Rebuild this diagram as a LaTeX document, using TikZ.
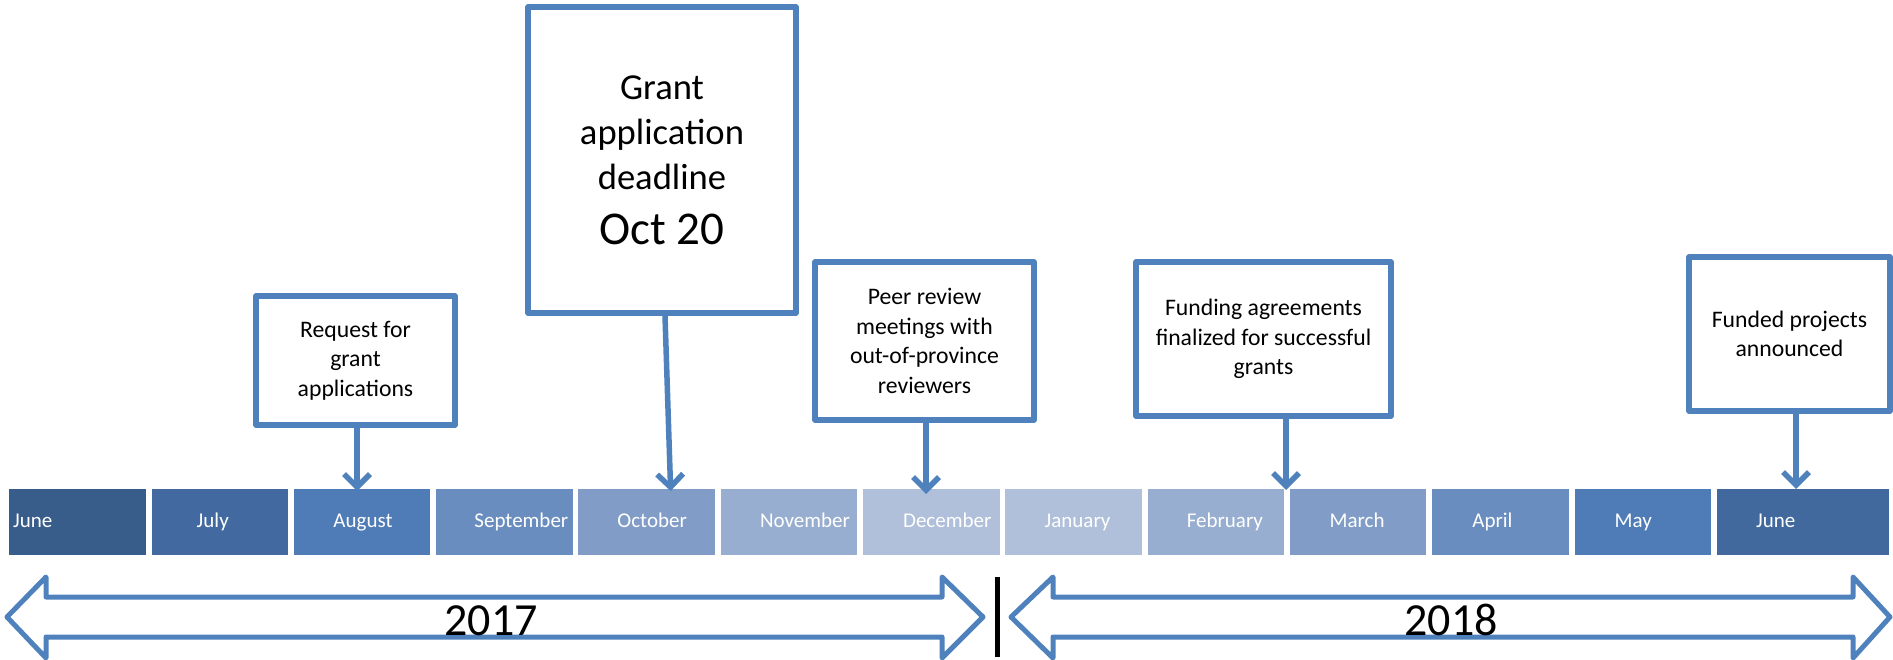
\documentclass[tikz,border=0pt]{standalone}
\usepackage{fontspec}
\setmainfont{Carlito}
\usetikzlibrary{arrows.meta}
\definecolor{ob}{HTML}{4F81BD}
\definecolor{mA}{HTML}{385D8A}
\definecolor{mB}{HTML}{426AA0}
\definecolor{mC}{HTML}{4F7BB6}
\definecolor{mD}{HTML}{6A8DC0}
\definecolor{mE}{HTML}{819DC7}
\definecolor{mF}{HTML}{98AED0}
\definecolor{mG}{HTML}{B0C0DA}
\definecolor{mH}{HTML}{42699E}
\begin{document}
\begin{tikzpicture}[x=1pt,y=-1pt,
  month/.style={rectangle, inner sep=0pt, minimum height=65.5pt, minimum width=136.5pt, anchor=north west},
  mlabel/.style={text=white, font=\fontsize{21}{25}\selectfont, inner sep=0pt, anchor=base},
  event/.style={rectangle, draw=ob, line width=5.5pt, line join=round, fill=white, align=center, inner sep=0pt, font=\fontsize{23.7}{29.5}\selectfont},
  conn/.style={draw=ob, line width=5.5pt, -{Straight Barb[length=13pt,width=26pt]}},
  yeararrow/.style={draw=ob, line width=5pt, line join=round},
  year/.style={font=\fontsize{46}{55}\selectfont, inner sep=0pt, anchor=base}
]
\useasboundingbox (0,0) rectangle (1893,660);
% month boxes
\node[month, fill=mA] (jun17) at (9,489) {};
\node[month, fill=mB] (jul) at (151.3,489) {};
\node[month, fill=mC] (aug) at (293.6,489) {};
\node[month, fill=mD] (sep) at (435.9,489) {};
\node[month, fill=mE] (oct) at (578.2,489) {};
\node[month, fill=mF] (nov) at (720.5,489) {};
\node[month, fill=mG] (dec) at (862.8,489) {};
\node[month, fill=mG] (jan) at (1005.1,489) {};
\node[month, fill=mF] (feb) at (1147.4,489) {};
\node[month, fill=mE] (mar) at (1289.7,489) {};
\node[month, fill=mD] (apr) at (1432,489) {};
\node[month, fill=mC] (may) at (1574.3,489) {};
\node[month, fill=mH, minimum width=172pt] (jun18) at (1716.6,489) {};
% month labels
\node[mlabel, anchor=base west] at ([xshift=4pt,yshift=-5.5pt]jun17.west) {June};
\node[mlabel] at ([xshift=-7pt,yshift=-5.5pt]jul.center) {July};
\node[mlabel] at ([xshift=1pt,yshift=-5.5pt]aug.center) {August};
\node[mlabel] at ([xshift=17pt,yshift=-5.5pt]sep.center) {September};
\node[mlabel] at ([xshift=5.5pt,yshift=-5.5pt]oct.center) {October};
\node[mlabel] at ([xshift=16pt,yshift=-5.5pt]nov.center) {November};
\node[mlabel] at ([xshift=16pt,yshift=-5.5pt]dec.center) {December};
\node[mlabel] at ([xshift=4pt,yshift=-5.5pt]jan.center) {January};
\node[mlabel] at ([xshift=9pt,yshift=-5.5pt]feb.center) {February};
\node[mlabel] at ([xshift=-1pt,yshift=-5.5pt]mar.center) {March};
\node[mlabel] at ([xshift=-8pt,yshift=-5.5pt]apr.center) {April};
\node[mlabel] at ([xshift=-9.5pt,yshift=-5.5pt]may.center) {May};
\node[mlabel] at ([xshift=-27pt,yshift=-5.5pt]jun18.center) {June};
% event boxes
\node[event, minimum width=199pt, minimum height=129pt] (req) at (355.5,360.5) {Request for\\grant\\applications};
\node[event, minimum width=268pt, minimum height=306pt, font=\fontsize{36.6}{45}\selectfont] (deadline) at (662,160) {Grant\\application\\deadline\\[10pt]{\fontsize{47}{57}\selectfont Oct 20}};
\node[event, minimum width=219pt, minimum height=158pt] (peer) at (924.5,341) {Peer review\\meetings with\\out-of-province\\reviewers};
\node[event, minimum width=255pt, minimum height=154pt] (fund) at (1263.5,339) {Funding agreements\\finalized for successful\\grants};
\node[event, minimum width=201pt, minimum height=154pt] (ann) at (1789.5,334) {Funded projects\\announced};
% connectors
\coordinate (reqA) at ([xshift=1.5pt]req.south);
\draw[conn, shorten >=-2pt] (reqA) -- (reqA |- aug.north);
\draw[conn] ([xshift=3pt]deadline.south) -- ([xshift=24pt,yshift=-2pt]oct.north);
\coordinate (peerA) at ([xshift=1.5pt]peer.south);
\draw[conn, shorten >=-5pt] (peerA) -- (peerA |- dec.north);
\coordinate (fundA) at ([xshift=22.5pt]fund.south);
\draw[conn, shorten >=-1pt] (fundA) -- (fundA |- feb.north);
\coordinate (annA) at ([xshift=6.5pt]ann.south);
\draw[conn] (annA) -- (annA |- jun18.north);
% year arrows
\draw[yeararrow] (7,617) -- (46,577) -- (46,597) -- (942,597) -- (942,577) -- (983,617) -- (942,658) -- (942,637) -- (46,637) -- (46,658) -- cycle;
\draw[yeararrow] (1011,617) -- (1053,577) -- (1053,597) -- (1853,597) -- (1853,577) -- (1890,617) -- (1853,658) -- (1853,637) -- (1053,637) -- (1053,658) -- cycle;
\node[year] (y2017) at (491,635) {2017};
\node[year] (y2018) at (1451,635) {2018};
\draw[line width=5pt] (997,577) -- (997,657);
\end{tikzpicture}
\end{document}
